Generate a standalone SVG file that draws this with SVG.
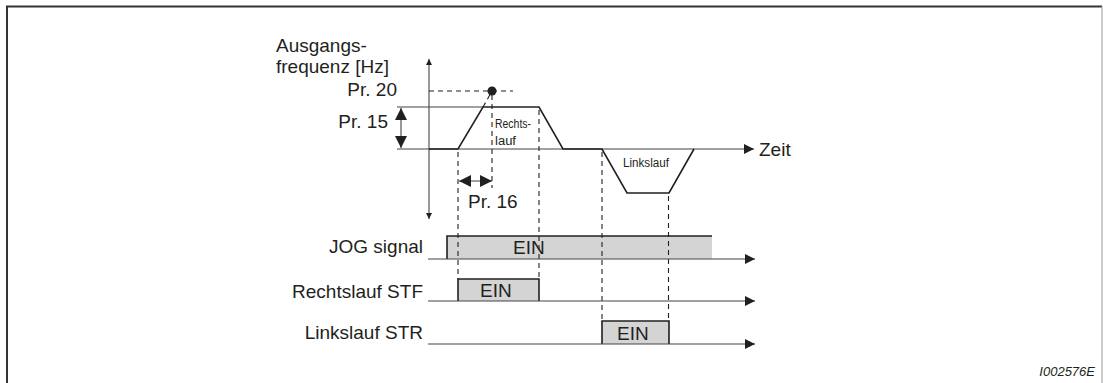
<svg xmlns="http://www.w3.org/2000/svg" width="1103" height="383" viewBox="0 0 1103 383">
<style>
text{font-family:"Liberation Sans",Arial,sans-serif;fill:#231f20}
.lbl{font-size:19px}
.sm{font-size:12px}
.axis{stroke:#444;stroke-width:1.1;fill:none}
.curve{stroke:#231f20;stroke-width:1.6;fill:none}
.dash{stroke:#231f20;stroke-width:1.1;stroke-dasharray:5,4;fill:none}
.sig{fill:#d4d4d4;stroke:none}
.edge{stroke:#231f20;stroke-width:1.6;fill:none}
</style>
<defs>
<marker id="ah" viewBox="0 0 10 10" refX="10" refY="5" markerWidth="10" markerHeight="10" markerUnits="userSpaceOnUse" orient="auto-start-reverse">
<path d="M0,0 L10,5 L0,10 z" fill="#231f20"/>
</marker>
<marker id="ahs" viewBox="0 0 10 10" refX="10" refY="5" markerWidth="6" markerHeight="6" markerUnits="userSpaceOnUse" orient="auto-start-reverse">
<path d="M0,0 L10,5 L0,10 z" fill="#231f20"/>
</marker>
<marker id="ahb" viewBox="0 0 10 10" refX="10" refY="5" markerWidth="12" markerHeight="12" markerUnits="userSpaceOnUse" orient="auto-start-reverse">
<path d="M0,0 L10,5 L0,10 z" fill="#231f20"/>
</marker>
</defs>
<g id="frame">
<path d="M7,383 V6.5 H1102" fill="none" stroke="#333" stroke-width="2"/>
<line x1="1102" y1="6" x2="1102" y2="383" stroke="#999" stroke-width="1"/>
</g>
<g id="labels">
<text class="lbl" x="276" y="52">Ausgangs-</text>
<text class="lbl" x="276" y="73">frequenz [Hz]</text>
<text class="lbl" x="397" y="96" text-anchor="end">Pr. 20</text>
<text class="lbl" x="388" y="128" text-anchor="end">Pr. 15</text>
<text class="lbl" x="468" y="208">Pr. 16</text>
<text class="lbl" x="759" y="156">Zeit</text>
<text class="sm" x="495" y="128" textLength="36" lengthAdjust="spacingAndGlyphs">Rechts-</text>
<text class="sm" x="495" y="145" textLength="21" lengthAdjust="spacingAndGlyphs">lauf</text>
<text class="sm" x="623" y="167" textLength="46" lengthAdjust="spacingAndGlyphs">Linkslauf</text>
<text class="lbl" x="423" y="253" text-anchor="end">JOG signal</text>
<text class="lbl" x="423" y="298" text-anchor="end">Rechtslauf STF</text>
<text class="lbl" x="423" y="339" text-anchor="end">Linkslauf STR</text>
<text x="1095" y="376" text-anchor="end" font-size="13" font-style="italic">I002576E</text>
</g>
<g id="signals">
<rect class="sig" x="447" y="236" width="265" height="23"/>
<path class="edge" d="M447,259 V236 H712"/>
<rect class="sig" x="458" y="279" width="81" height="22"/>
<path class="edge" d="M458,301 V279 H539 V301"/>
<rect class="sig" x="602" y="321" width="67" height="23"/>
<path class="edge" d="M602,344 V321 H669 V344"/>
<text class="lbl" x="513" y="254">EIN</text>
<text class="lbl" x="480" y="297">EIN</text>
<text class="lbl" x="617" y="340">EIN</text>
</g>
<g id="connectors">
<line class="axis" x1="429" y1="219" x2="429" y2="59" marker-start="url(#ahs)" marker-end="url(#ahs)"/>
<line class="axis" x1="397" y1="149" x2="754" y2="149" marker-end="url(#ah)"/>
<line class="axis" x1="397" y1="107" x2="483" y2="107"/>
<line class="axis" x1="401" y1="108" x2="401" y2="148" marker-start="url(#ahb)" marker-end="url(#ahb)"/>
<line class="axis" x1="459" y1="181" x2="492" y2="181" marker-start="url(#ahb)" marker-end="url(#ahb)"/>
<polyline class="curve" points="429,149 458,149 483,107 539,107 563,149 602,149 627,193 669,193 694,149"/>
<line class="dash" x1="429" y1="91" x2="513" y2="91"/>
<line class="dash" x1="483" y1="107" x2="492" y2="91"/>
<line class="dash" x1="492" y1="95" x2="492" y2="188"/>
<circle cx="492" cy="91" r="4.5" fill="#231f20"/>
<line class="dash" x1="458" y1="152" x2="458" y2="279"/>
<line class="dash" x1="539" y1="110" x2="539" y2="279"/>
<line class="dash" x1="602" y1="152" x2="602" y2="321"/>
<line class="dash" x1="668.5" y1="196" x2="668.5" y2="321"/>
<line class="axis" x1="428" y1="259" x2="755" y2="259" stroke-width="1.4" marker-end="url(#ah)"/>
<line class="axis" x1="428" y1="301" x2="755" y2="301" stroke-width="1.4" marker-end="url(#ah)"/>
<line class="axis" x1="428" y1="344" x2="755" y2="344" stroke-width="1.4" marker-end="url(#ah)"/>
</g>
</svg>
